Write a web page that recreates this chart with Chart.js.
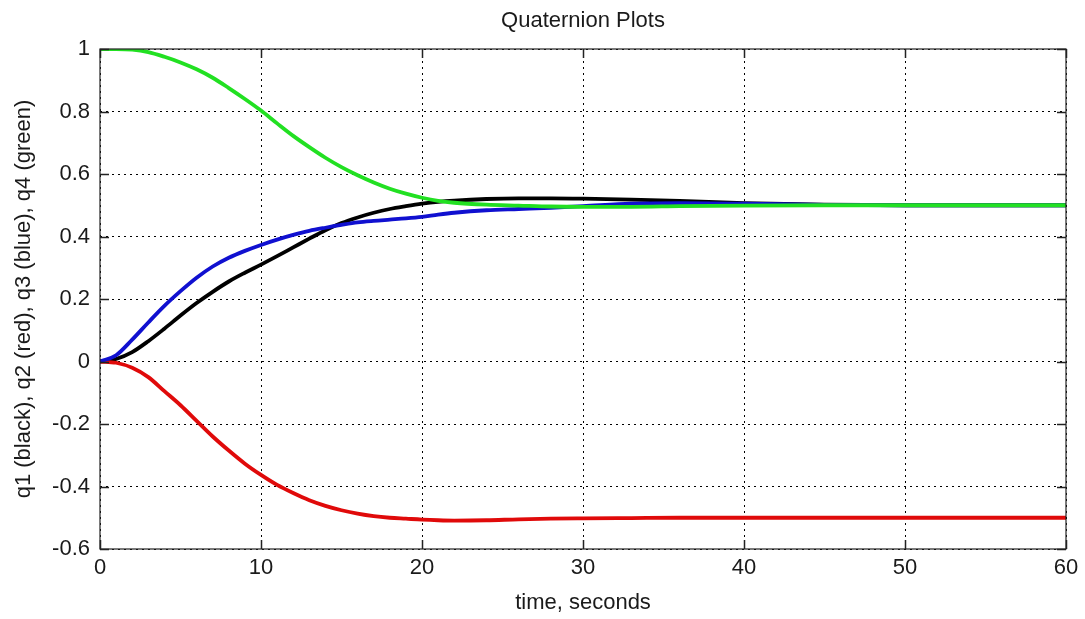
<!DOCTYPE html>
<html>
<head>
<meta charset="utf-8">
<script src="https://cdn.jsdelivr.net/npm/chart.js@4/dist/chart.umd.min.js"></script>
<style>
  html, body { margin: 0; padding: 0; background: #fff; }
  #wrap { width: 1085px; height: 619px; }
</style>
</head>
<body>
<div id="wrap"><canvas id="c" width="1085" height="619"></canvas></div>
<script>
// ---- data ----
const time = [0,1,2,3,4,5,6,7,8,9,10,11,12,13,14,15,16,17,18,19,20,21,22,24,26,28,30,33,36,40,45,50,55,60];
const q1Black = [0,0.008,0.03,0.065,0.105,0.147,0.187,0.223,0.256,0.284,0.31,0.337,0.365,0.393,0.42,0.443,0.461,0.476,0.488,0.497,0.505,0.511,0.515,0.52,0.522,0.522,0.521,0.518,0.514,0.507,0.502,0.5,0.5,0.5];
const q2Red = [0,-0.004,-0.02,-0.05,-0.095,-0.14,-0.19,-0.24,-0.285,-0.327,-0.363,-0.395,-0.421,-0.444,-0.462,-0.476,-0.487,-0.495,-0.5,-0.503,-0.506,-0.508,-0.509,-0.508,-0.505,-0.503,-0.502,-0.501,-0.5,-0.5,-0.5,-0.5,-0.5,-0.5];
const q3Blue = [0,0.02,0.07,0.125,0.178,0.225,0.268,0.304,0.332,0.354,0.373,0.39,0.405,0.418,0.428,0.437,0.445,0.45,0.454,0.458,0.463,0.47,0.476,0.484,0.488,0.492,0.497,0.505,0.507,0.505,0.501,0.5,0.5,0.5];
const q4Green = [1,1,0.998,0.99,0.975,0.957,0.935,0.908,0.875,0.84,0.803,0.762,0.722,0.686,0.652,0.622,0.596,0.573,0.553,0.537,0.524,0.514,0.508,0.502,0.499,0.496,0.495,0.495,0.497,0.499,0.5,0.5,0.5,0.5];
const xTicks = [0,10,20,30,40,50,60];
const yTicks = [-0.6,-0.4,-0.2,0,0.2,0.4,0.6,0.8,1];
const titleText = 'Quaternion Plots';
const xLabel = 'time, seconds';
const yLabel = 'q1 (black), q2 (red), q3 (blue), q4 (green)';

const pts = arr => arr.map((v, i) => ({x: time[i], y: v}));
const FONT = "'Liberation Sans', Arial, sans-serif";

const matlabBox = {
  id: 'matlabBox',
  afterDraw(chart) {
    const {ctx, chartArea: a, scales: {x, y}} = chart;
    ctx.save();
    ctx.strokeStyle = '#222';
    ctx.lineWidth = 1.2;
    ctx.strokeRect(a.left, a.top, a.right - a.left, a.bottom - a.top);
    const L = 9;
    ctx.lineWidth = 1.5;
    ctx.beginPath();
    xTicks.forEach(v => {
      const px = Math.round(x.getPixelForValue(v)) + 0.5;
      ctx.moveTo(px, a.bottom); ctx.lineTo(px, a.bottom - L);
      ctx.moveTo(px, a.top); ctx.lineTo(px, a.top + L);
    });
    yTicks.forEach(v => {
      const py = Math.round(y.getPixelForValue(v)) + 0.5;
      ctx.moveTo(a.left, py); ctx.lineTo(a.left + L, py);
      ctx.moveTo(a.right, py); ctx.lineTo(a.right - L, py);
    });
    ctx.stroke();
    ctx.restore();
  }
};

const ds = (label, data, color, order) => ({
  label, data: pts(data), borderColor: color, backgroundColor: color,
  borderWidth: 3.8, pointRadius: 0, cubicInterpolationMode: 'monotone',
  fill: false, order
});

new Chart(document.getElementById('c'), {
  type: 'line',
  data: {
    datasets: [
      ds('q1', q1Black, '#000000', 3),
      ds('q2', q2Red, '#e00a0a', 2),
      ds('q3', q3Blue, '#1010d0', 1),
      ds('q4', q4Green, '#22e022', 0)
    ]
  },
  options: {
    responsive: false,
    animation: false,
    layout: { padding: { left: 0, right: 19, top: 0, bottom: 0 } },
    plugins: {
      legend: { display: false },
      tooltip: { enabled: false },
      title: {
        display: true, text: titleText, color: '#1a1a1a', fullSize: false,
        font: { family: FONT, size: 22, weight: 'normal', lineHeight: 1.2 },
        padding: { top: 8, bottom: 14.6 }
      }
    },
    scales: {
      x: {
        type: 'linear', min: 0, max: 60,
        afterBuildTicks: s => { s.ticks = xTicks.map(v => ({value: v})); },
        afterFit: s => { s.height = 70; },
        ticks: { color: '#1a1a1a', padding: 6, maxRotation: 0, autoSkip: false,
          font: { family: FONT, size: 22 }, callback: v => String(v) },
        grid: { color: '#000', lineWidth: 1, drawTicks: false },
        border: { display: false, dash: [2, 4] },
        title: { display: true, text: xLabel, color: '#1a1a1a',
          font: { family: FONT, size: 22, lineHeight: 1.2 }, padding: { top: 0, bottom: 3 } }
      },
      y: {
        type: 'linear', min: -0.6, max: 1,
        afterBuildTicks: s => { s.ticks = yTicks.map(v => ({value: v})); },
        afterFit: s => { s.width = 100; },
        ticks: { color: '#1a1a1a', padding: 10, autoSkip: false,
          font: { family: FONT, size: 22 }, callback: v => String(Math.round(v * 10) / 10) },
        grid: { color: '#000', lineWidth: 1, drawTicks: false },
        border: { display: false, dash: [2, 4] },
        title: { display: true, text: yLabel, color: '#1a1a1a',
          font: { family: FONT, size: 22, lineHeight: 1.2 }, padding: { top: 11, bottom: 0 } }
      }
    }
  },
  plugins: [matlabBox]
});
</script>
</body>
</html>
